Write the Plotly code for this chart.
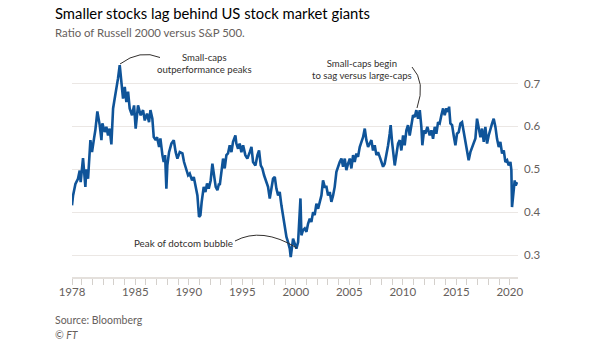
import plotly.graph_objects as go

# ---- data (decimal year, ratio) ----
years = [
    1979.09, 1979.19, 1979.41, 1979.65, 1979.81, 1979.90, 1980.12, 1980.34, 1980.43, 1980.59,
    1980.81, 1980.96, 1981.15, 1981.27, 1981.46, 1981.68, 1981.84, 1981.93, 1982.15, 1982.30,
    1982.46, 1982.61, 1982.77, 1982.93, 1983.08, 1983.24, 1983.39, 1983.55, 1983.70, 1983.86,
    1984.02, 1984.17, 1984.33, 1984.48, 1984.70, 1984.89, 1985.04, 1985.26, 1985.51, 1985.73,
    1985.89, 1986.10, 1986.29, 1986.42, 1986.60, 1986.73, 1986.91, 1987.04, 1987.23, 1987.35,
    1987.54, 1987.66, 1987.79, 1987.91, 1988.00, 1988.16, 1988.38, 1988.60, 1988.78, 1988.94,
    1989.16, 1989.41, 1989.56, 1989.78, 1989.94, 1990.09, 1990.31, 1990.47, 1990.65, 1990.81,
    1990.96, 1991.09, 1991.21, 1991.40, 1991.56, 1991.71, 1991.87, 1992.05, 1992.21, 1992.37,
    1992.52, 1992.68, 1992.83, 1992.90, 1993.05, 1993.21, 1993.36, 1993.52, 1993.67, 1993.83,
    1993.99, 1994.14, 1994.36, 1994.45, 1994.61, 1994.76, 1994.92, 1995.08, 1995.29, 1995.48,
    1995.70, 1995.86, 1996.01, 1996.23, 1996.42, 1996.57, 1996.73, 1996.88, 1997.04, 1997.26,
    1997.41, 1997.57, 1997.72, 1997.88, 1998.04, 1998.19, 1998.35, 1998.50, 1998.66, 1998.81,
    1998.97, 1999.13, 1999.28, 1999.44, 1999.53, 1999.66, 1999.75, 1999.91, 2000.06, 2000.22,
    2000.37, 2000.44, 2000.53, 2000.68, 2000.84, 2001.00, 2001.15, 2001.31, 2001.46, 2001.62,
    2001.77, 2001.93, 2002.09, 2002.24, 2002.40, 2002.55, 2002.71, 2002.87, 2003.02, 2003.18,
    2003.33, 2003.49, 2003.64, 2003.80, 2003.96, 2004.11, 2004.27, 2004.42, 2004.58, 2004.73,
    2004.89, 2005.05, 2005.20, 2005.36, 2005.51, 2005.67, 2005.82, 2005.98, 2006.14, 2006.29,
    2006.45, 2006.60, 2006.76, 2006.91, 2007.07, 2007.22, 2007.38, 2007.54, 2007.69, 2007.85,
    2008.00, 2008.16, 2008.31, 2008.47, 2008.63, 2008.78, 2008.87, 2009.00, 2009.12, 2009.25,
    2009.40, 2009.56, 2009.72, 2009.87, 2010.03, 2010.18, 2010.34, 2010.49, 2010.65, 2010.81,
    2010.96, 2011.12, 2011.27, 2011.43, 2011.59, 2011.74, 2011.83, 2011.99, 2012.11, 2012.30,
    2012.52, 2012.68, 2012.83, 2012.99, 2013.14, 2013.30, 2013.45, 2013.61, 2013.77, 2013.92,
    2014.08, 2014.23, 2014.33, 2014.45, 2014.61, 2014.76, 2014.92, 2015.07, 2015.23, 2015.39,
    2015.54, 2015.70, 2015.85, 2016.01, 2016.16, 2016.32, 2016.48, 2016.63, 2016.79, 2016.94,
    2017.10, 2017.26, 2017.41, 2017.57, 2017.72, 2017.88, 2018.03, 2018.19, 2018.35, 2018.50,
    2018.66, 2018.81, 2018.97, 2019.12, 2019.28, 2019.44, 2019.59, 2019.75, 2019.90, 2020.06,
    2020.15, 2020.21, 2020.31, 2020.46, 2020.56, 2020.68,
]
ratio = [
    0.416, 0.439, 0.466, 0.478, 0.497, 0.470, 0.526, 0.459, 0.500, 0.478,
    0.568, 0.540, 0.572, 0.591, 0.635, 0.603, 0.568, 0.607, 0.587, 0.599,
    0.579, 0.595, 0.558, 0.642, 0.665, 0.688, 0.712, 0.743, 0.708, 0.665,
    0.692, 0.657, 0.681, 0.642, 0.626, 0.649, 0.595, 0.649, 0.626, 0.638,
    0.614, 0.630, 0.610, 0.638, 0.618, 0.575, 0.568, 0.575, 0.552, 0.572,
    0.533, 0.517, 0.533, 0.455, 0.509, 0.540, 0.560, 0.568, 0.540, 0.525,
    0.540, 0.537, 0.517, 0.498, 0.486, 0.490, 0.474, 0.482, 0.459, 0.439,
    0.389, 0.393, 0.424, 0.459, 0.447, 0.467, 0.455, 0.474, 0.513, 0.486,
    0.459, 0.451, 0.467, 0.463, 0.498, 0.525, 0.502, 0.533, 0.537, 0.556,
    0.540, 0.564, 0.579, 0.560, 0.548, 0.560, 0.540, 0.556, 0.533, 0.525,
    0.540, 0.552, 0.517, 0.509, 0.533, 0.544, 0.509, 0.502, 0.486, 0.470,
    0.459, 0.432, 0.459, 0.478, 0.482, 0.455, 0.439, 0.447, 0.416, 0.393,
    0.358, 0.342, 0.330, 0.315, 0.295, 0.330, 0.338, 0.326, 0.315, 0.330,
    0.416, 0.432, 0.346, 0.358, 0.362, 0.354, 0.373, 0.385, 0.377, 0.400,
    0.393, 0.420, 0.408, 0.424, 0.439, 0.474, 0.459, 0.459, 0.439, 0.447,
    0.424, 0.439, 0.459, 0.494, 0.509, 0.517, 0.525, 0.506, 0.525, 0.498,
    0.513, 0.525, 0.502, 0.533, 0.517, 0.537, 0.529, 0.552, 0.564, 0.575,
    0.595, 0.568, 0.552, 0.560, 0.568, 0.544, 0.556, 0.533, 0.540, 0.529,
    0.517, 0.506, 0.513, 0.533, 0.556, 0.583, 0.603, 0.564, 0.533, 0.509,
    0.533, 0.560, 0.568, 0.544, 0.579, 0.556, 0.591, 0.603, 0.579, 0.599,
    0.626, 0.622, 0.638, 0.618, 0.638, 0.599, 0.556, 0.591, 0.583, 0.599,
    0.579, 0.591, 0.571, 0.599, 0.583, 0.610, 0.607, 0.626, 0.642, 0.626,
    0.642, 0.634, 0.646, 0.607, 0.603, 0.579, 0.556, 0.583, 0.587, 0.607,
    0.610, 0.587, 0.568, 0.548, 0.521, 0.540, 0.552, 0.560, 0.572, 0.618,
    0.591, 0.575, 0.595, 0.564, 0.599, 0.560, 0.579, 0.595, 0.607, 0.618,
    0.599, 0.571, 0.552, 0.564, 0.537, 0.544, 0.517, 0.521, 0.509, 0.517,
    0.498, 0.412, 0.440, 0.474, 0.462, 0.470,
]

x_tick_vals = [1979.09, 1985, 1990, 1995, 2000, 2005, 2010, 2015, 2020]
x_tick_text = ["1978", "1985", "1990", "1995", "2000", "2005", "2010", "2015", "2020"]
x_minor_vals = list(range(1980, 2021))
y_tick_vals = [0.3, 0.4, 0.5, 0.6, 0.7]
y_tick_text = ["0.3", "0.4", "0.5", "0.6", "0.7"]

# ---- layout geometry ----
W, H = 605, 341
ML, MR, MT, MB = 72, 87, 48, 64
X0, X1 = 1979.09, 2020.77
Y0, Y1 = 0.2487, 0.783
PW, PH = W - ML - MR, H - MT - MB

FONT = "Lato"
TXT = "#33302e"
GREY = "#66605c"
BLUE = "#0f5499"


def dx(px):
    return X0 + (px - ML) / PW * (X1 - X0)


def dy(py):
    return Y0 + (H - MB - py) / PH * (Y1 - Y0)


def pxp(px):
    return (px - ML) / PW


def pyp(py):
    return (H - MB - py) / PH


def qpath(p0, c, p1):
    return "M {},{} Q {},{} {},{}".format(dx(p0[0]), dy(p0[1]), dx(c[0]), dy(c[1]), dx(p1[0]), dy(p1[1]))


fig = go.Figure()
fig.add_trace(go.Scatter(x=years, y=ratio, mode="lines",
                         line=dict(color=BLUE, width=2.6), hoverinfo="skip"))

connectors = [
    qpath((120, 64), (140, 49), (160, 57.5)),
    qpath((412, 67), (426, 82), (417, 108)),
    qpath((235, 241), (262, 226.5), (297, 248)),
]
shapes = [dict(type="path", path=p, xref="x", yref="y",
               line=dict(color="#33302e", width=1)) for p in connectors]

annotations = [
    dict(text="Smaller stocks lag behind US stock market giants", x=pxp(53), y=pyp(13),
         xref="paper", yref="paper", xanchor="left", yanchor="middle", showarrow=False,
         font=dict(family=FONT, size=14.8, color="#000000")),
    dict(text="Ratio of Russell 2000 versus S&P 500.", x=pxp(53), y=pyp(33),
         xref="paper", yref="paper", xanchor="left", yanchor="middle", showarrow=False,
         font=dict(family=FONT, size=11.4, color=GREY)),
    dict(text="Source: Bloomberg", x=pxp(53), y=pyp(320),
         xref="paper", yref="paper", xanchor="left", yanchor="middle", showarrow=False,
         font=dict(family=FONT, size=10.5, color=GREY)),
    dict(text="<i>© FT</i>", x=pxp(53), y=pyp(335),
         xref="paper", yref="paper", xanchor="left", yanchor="middle", showarrow=False,
         font=dict(family=FONT, size=10.5, color=GREY)),
    dict(text="Small-caps<br>outperformance peaks", x=dx(204), y=dy(63),
         xref="x", yref="y", xanchor="center", yanchor="middle", showarrow=False,
         font=dict(family=FONT, size=9.6, color=TXT)),
    dict(text="Small-caps begin<br>to sag versus large-caps", x=dx(362), y=dy(69),
         xref="x", yref="y", xanchor="center", yanchor="middle", showarrow=False,
         font=dict(family=FONT, size=9.6, color=TXT)),
    dict(text="Peak of dotcom bubble", x=dx(235), y=dy(242.5),
         xref="x", yref="y", xanchor="right", yanchor="middle", showarrow=False,
         font=dict(family=FONT, size=9.8, color=TXT)),
]

fig.update_layout(
    width=W, height=H,
    margin=dict(l=ML, r=MR, t=MT, b=MB, pad=0),
    paper_bgcolor="white", plot_bgcolor="white",
    showlegend=False,
    font=dict(family=FONT, color=GREY),
    shapes=shapes,
    annotations=annotations,
    xaxis=dict(
        range=[X0, X1], tickmode="array", tickvals=x_tick_vals, ticktext=x_tick_text,
        ticks="outside", ticklen=6, tickcolor="#d4d0cc", tickwidth=1,
        showgrid=False, zeroline=False,
        showline=True, linecolor="#e4e0dc", linewidth=2,
        ticklabelstandoff=-3,
        tickfont=dict(family=FONT, size=11.5, color=GREY),
        minor=dict(tickmode="array", tickvals=x_minor_vals, ticks="outside",
                   ticklen=6, tickcolor="#d4d0cc", tickwidth=1, showgrid=False),
    ),
    yaxis=dict(
        range=[Y0, Y1], side="right", tickmode="array", tickvals=y_tick_vals,
        ticktext=y_tick_text, ticks="", showgrid=True, gridcolor="#ebe7e4", gridwidth=1,
        zeroline=False, showline=False, ticklabelstandoff=5,
        tickfont=dict(family=FONT, size=11.5, color=GREY),
    ),
)

fig.write_html("out.html")
